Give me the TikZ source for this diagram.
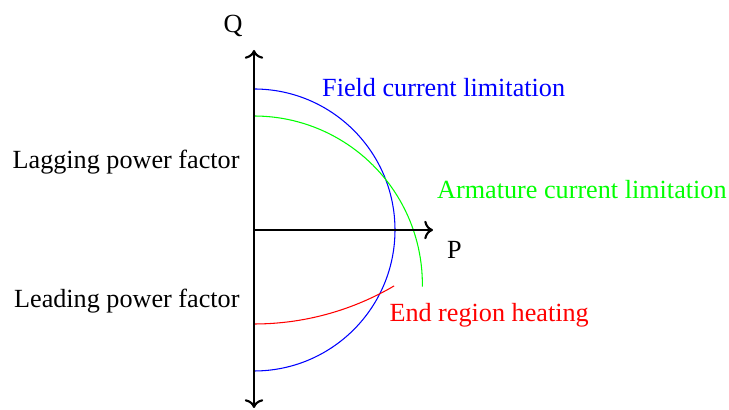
\documentclass[tikz,border=0pt]{standalone}
\usepackage{fontspec}
\setmainfont{Liberation Serif}
\newfontfamily\tmsfont{Liberation Serif}
\usetikzlibrary{arrows.meta}
\begin{document}
\begin{tikzpicture}[x=0.377pt,y=0.377pt,
  tip/.tip={To[length=3.3pt,width=7pt]},
  axis/.style={thick,-tip},
  curve/.style={line width=0.4pt},
  lbl/.style={inner sep=0pt,font=\tmsfont\fontsize{9.87}{12}\selectfont}]
\useasboundingbox (-254,-180) rectangle (475,230);
\coordinate (O) at (0,0);
\coordinate (Qtop) at (0,180);
\coordinate (Qbot) at (0,-178);
\coordinate (Ptip) at (179,0);
% curves
\draw[curve,blue] (0,141) arc[start angle=90,end angle=-90,radius=141];
\draw[curve,green] (0,114) arc[start angle=90,end angle=-0.8,radius=168.4];
\draw[curve,red] (0,-94) arc[start angle=-90,end angle=-59.6,radius=277];
% axes
\draw[thick,tip-tip] (Qbot) -- (Qtop);
\draw[axis] (O) -- (Ptip);
% labels
\node[lbl,anchor=base west] (q) at (-31,197) {Q};
\node[lbl,anchor=base west] (p) at (192.7,-28.3) {P};
\node[lbl,anchor=base west,text=blue] (fcl) at (67.7,133.3) {Field current limitation};
\node[lbl,anchor=base west,text=green] (acl) at (182.7,31.7) {Armature current limitation};
\node[lbl,anchor=base west,text=red] (erh) at (135,-91.7) {End region heating};
\node[lbl,anchor=base east] (lag) at (-14,61.7) {Lagging power factor};
\node[lbl,anchor=base east] (lead) at (-14,-77.3) {Leading power factor};
\end{tikzpicture}
\end{document}
